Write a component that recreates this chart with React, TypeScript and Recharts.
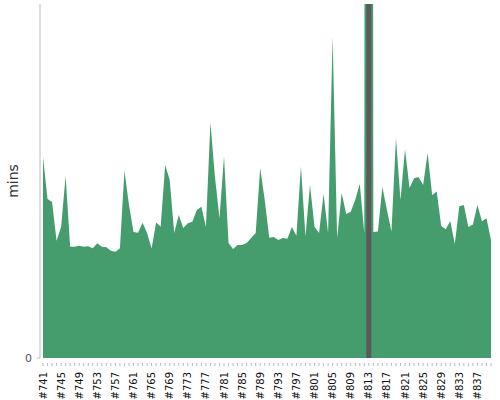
import { AreaChart, Area, XAxis, YAxis, ReferenceLine } from 'recharts'

const builds = [
  '#741', '#742', '#743', '#744', '#745', '#746', '#747', '#748', '#749', '#750',
  '#751', '#752', '#753', '#754', '#755', '#756', '#757', '#758', '#759', '#760',
  '#761', '#762', '#763', '#764', '#765', '#766', '#767', '#768', '#769', '#770',
  '#771', '#772', '#773', '#774', '#775', '#776', '#777', '#778', '#779', '#780',
  '#781', '#782', '#783', '#784', '#785', '#786', '#787', '#788', '#789', '#790',
  '#791', '#792', '#793', '#794', '#795', '#796', '#797', '#798', '#799', '#800',
  '#801', '#802', '#803', '#804', '#805', '#806', '#807', '#808', '#809', '#810',
  '#811', '#812', '#813', '#814', '#815', '#816', '#817', '#818', '#819', '#820',
  '#821', '#822', '#823', '#824', '#825', '#826', '#827', '#828', '#829', '#830',
  '#831', '#832', '#833', '#834', '#835', '#836', '#837', '#838', '#839', '#840',
]

// build duration in minutes
const durations = [
  56.8, 44.9, 44.1, 33.1, 37.0, 51.4, 31.4, 31.4, 31.7, 31.4,
  31.6, 31.0, 32.4, 31.4, 31.3, 30.3, 30.0, 31.0, 52.9, 43.2,
  35.6, 35.4, 38.2, 35.3, 30.9, 38.3, 37.1, 54.5, 50.3, 35.3,
  40.4, 36.7, 38.1, 38.5, 41.8, 42.7, 37.1, 66.5, 51.1, 39.5,
  56.9, 32.5, 30.8, 31.9, 31.9, 32.5, 33.9, 35.3, 53.7, 44.6,
  34.0, 34.2, 33.3, 33.9, 33.7, 37.0, 34.5, 54.2, 34.3, 48.9,
  37.1, 35.3, 46.3, 35.3, 90.8, 33.9, 46.6, 40.7, 41.3, 44.6,
  49.2, 35.3, 1500, 35.6, 35.7, 48.3, 41.8, 35.7, 62.1, 44.6,
  59.0, 48.0, 50.8, 51.1, 48.9, 57.9, 46.0, 47.0, 37.3, 36.4,
  38.7, 32.2, 42.9, 43.2, 37.0, 37.7, 43.2, 38.6, 39.5, 33.3,
]

const labelledBuilds = [
  '#741', '#745', '#749', '#753', '#757', '#761', '#765', '#769', '#773',
  '#777', '#781', '#785', '#789', '#793', '#797', '#801', '#805', '#809',
  '#813', '#817', '#821', '#825', '#829', '#833', '#837',
]

const currentBuild = '#813'
const yTicks = [0]

const data = builds.map((build, i) => ({ build, mins: durations[i] }))

const FONT = '"DejaVu Sans", Verdana, sans-serif'

// eslint-disable-next-line @typescript-eslint/no-explicit-any
function BuildTick({ x, y, payload }: any) {
  const showLabel = labelledBuilds.includes(payload.value)
  return (
    <g>
      <line x1={x} x2={x} y1={y + 5} y2={y + 8} stroke="#bbb" strokeWidth={1} />
      {showLabel && (
        <text
          transform={`translate(${x},${y + 14}) rotate(-90)`}
          textAnchor="end"
          dy="0.35em"
          fontSize={10}
          fontFamily={FONT}
          fill="#111"
        >
          {payload.value}
        </text>
      )}
    </g>
  )
}

// eslint-disable-next-line @typescript-eslint/no-explicit-any
function MinsLabel({ viewBox }: any) {
  const cy = viewBox.y + viewBox.height / 2
  return (
    <text
      transform={`translate(18,${cy}) rotate(-90)`}
      textAnchor="middle"
      fontSize={14}
      fontFamily={FONT}
      fill="#333"
    >
      mins
    </text>
  )
}

export default function App() {
  return (
    <div style={{ position: 'absolute', left: 0, top: 0, width: 500, height: 400 }}>
      <AreaChart
        width={500}
        height={400}
        data={data}
        margin={{ top: 4, right: 9, left: 0, bottom: 0 }}
      >
        <XAxis
          dataKey="build"
          interval={0}
          padding={{ left: 3, right: 0 }}
          axisLine={false}
          tickLine={false}
          tickSize={0}
          tickMargin={0}
          height={42}
          tick={<BuildTick />}
        />
        <YAxis
          width={40}
          domain={[0, 100]}
          allowDataOverflow
          ticks={yTicks}
          tickSize={3}
          tickMargin={5}
          stroke="#bbb"
          tick={{ fill: '#555', fontSize: 11, fontFamily: FONT }}
          label={<MinsLabel />}
        />
        <Area
          type="linear"
          dataKey="mins"
          stroke="none"
          fill="#459d6d"
          fillOpacity={1}
          isAnimationActive={false}
        />
        <ReferenceLine x={currentBuild} stroke="#5a5a5a" strokeWidth={5} />
      </AreaChart>
    </div>
  )
}
